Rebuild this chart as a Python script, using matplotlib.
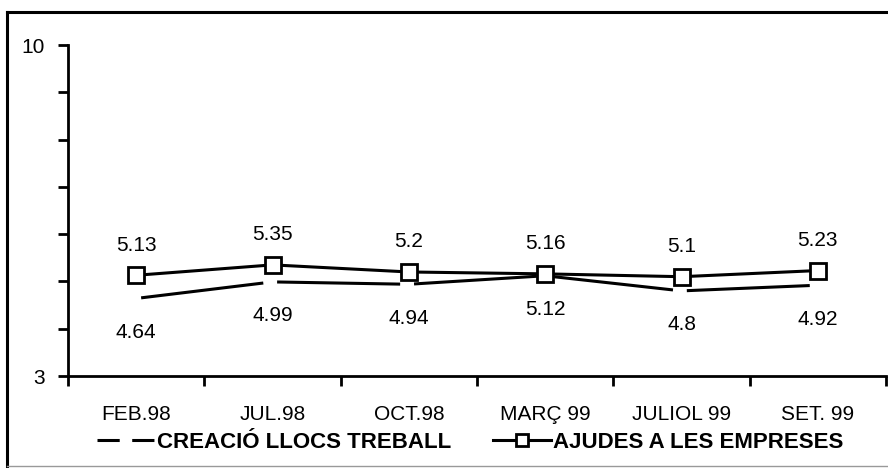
import matplotlib
matplotlib.use('Agg')
import matplotlib.pyplot as plt
from matplotlib.lines import Line2D

# dades
periodes = ['FEB.98', 'JUL.98', 'OCT.98', 'MARÇ 99', 'JULIOL 99', 'SET. 99']
creacio_llocs = [4.64, 4.99, 4.94, 5.12, 4.8, 4.92]
ajudes_empreses = [5.13, 5.35, 5.2, 5.16, 5.1, 5.23]
nom_creacio = 'CREACIÓ LLOCS TREBALL'
nom_ajudes = 'AJUDES A LES EMPRESES'

plt.rcParams['font.family'] = ['Liberation Sans', 'DejaVu Sans']
plt.rcParams['lines.scale_dashes'] = False

W, H = 888, 468
fig = plt.figure(figsize=(W / 100, H / 100), dpi=100)
ax = fig.add_axes([68 / W, 1 - 376 / H, 818 / W, 331 / H])

x = list(range(len(periodes)))

# long dashes with a gap at every point
ax.plot(x, creacio_llocs, color='black', lw=2.2,
        linestyle=(95, (88.6, 10)), zorder=2)
ax.plot(x, ajudes_empreses, color='black', lw=2.2, marker='s', ms=11,
        mfc='white', mec='black', mew=2, zorder=3)

for xi, v in zip(x, ajudes_empreses):
    ax.annotate(f'{v:g}', (xi, v), xytext=(0, 21.6), textcoords='offset points',
                ha='center', va='center', fontsize=15)
for xi, v in zip(x, creacio_llocs):
    ax.annotate(f'{v:g}', (xi, v), xytext=(0, -24.5), textcoords='offset points',
                ha='center', va='center', fontsize=15)

ax.set_xlim(-0.5, len(periodes) - 0.5)
ax.set_ylim(3, 10)

ax.spines['top'].set_visible(False)
ax.spines['right'].set_visible(False)
ax.spines['left'].set_linewidth(2)
ax.spines['bottom'].set_linewidth(2)

ax.set_xticks([i - 0.5 for i in range(len(periodes) + 1)])
ax.set_xticklabels([])
ax.set_xticks(x, minor=True)
ax.set_xticklabels(periodes, minor=True)
ax.tick_params(axis='x', which='major', length=7, width=2, direction='out')
ax.tick_params(axis='x', which='minor', length=0, pad=21, labelsize=15)

ax.set_yticks([3, 10])
ax.set_yticks(range(4, 10), minor=True)
ax.tick_params(axis='y', which='both', length=7, width=2, direction='out',
               pad=10, labelsize=15)

handles = [
    Line2D([], [], color='black', lw=2.2, linestyle=(0, (16, 9))),
    Line2D([], [], color='black', lw=2.2, marker='s', ms=9, mfc='white',
           mec='black', mew=2),
]
fig.legend(handles, [nom_creacio, nom_ajudes], loc='center',
           bbox_to_anchor=(470 / W, 1 - 442 / H), ncol=2, frameon=False,
           prop={'size': 16, 'weight': 'bold'}, handlelength=2.6,
           handletextpad=0.1, columnspacing=1.9)

# marc exterior
fig.add_artist(Line2D([7 / W, 1], [1 - 12 / H, 1 - 12 / H], color='black', lw=2.2))
fig.add_artist(Line2D([7 / W, 7 / W], [0, 1 - 12 / H], color='black', lw=2.2))
fig.add_artist(Line2D([7 / W, 1], [1 - 466 / H, 1 - 466 / H], color='#999999', lw=1))

fig.savefig('out.png', dpi=100)
